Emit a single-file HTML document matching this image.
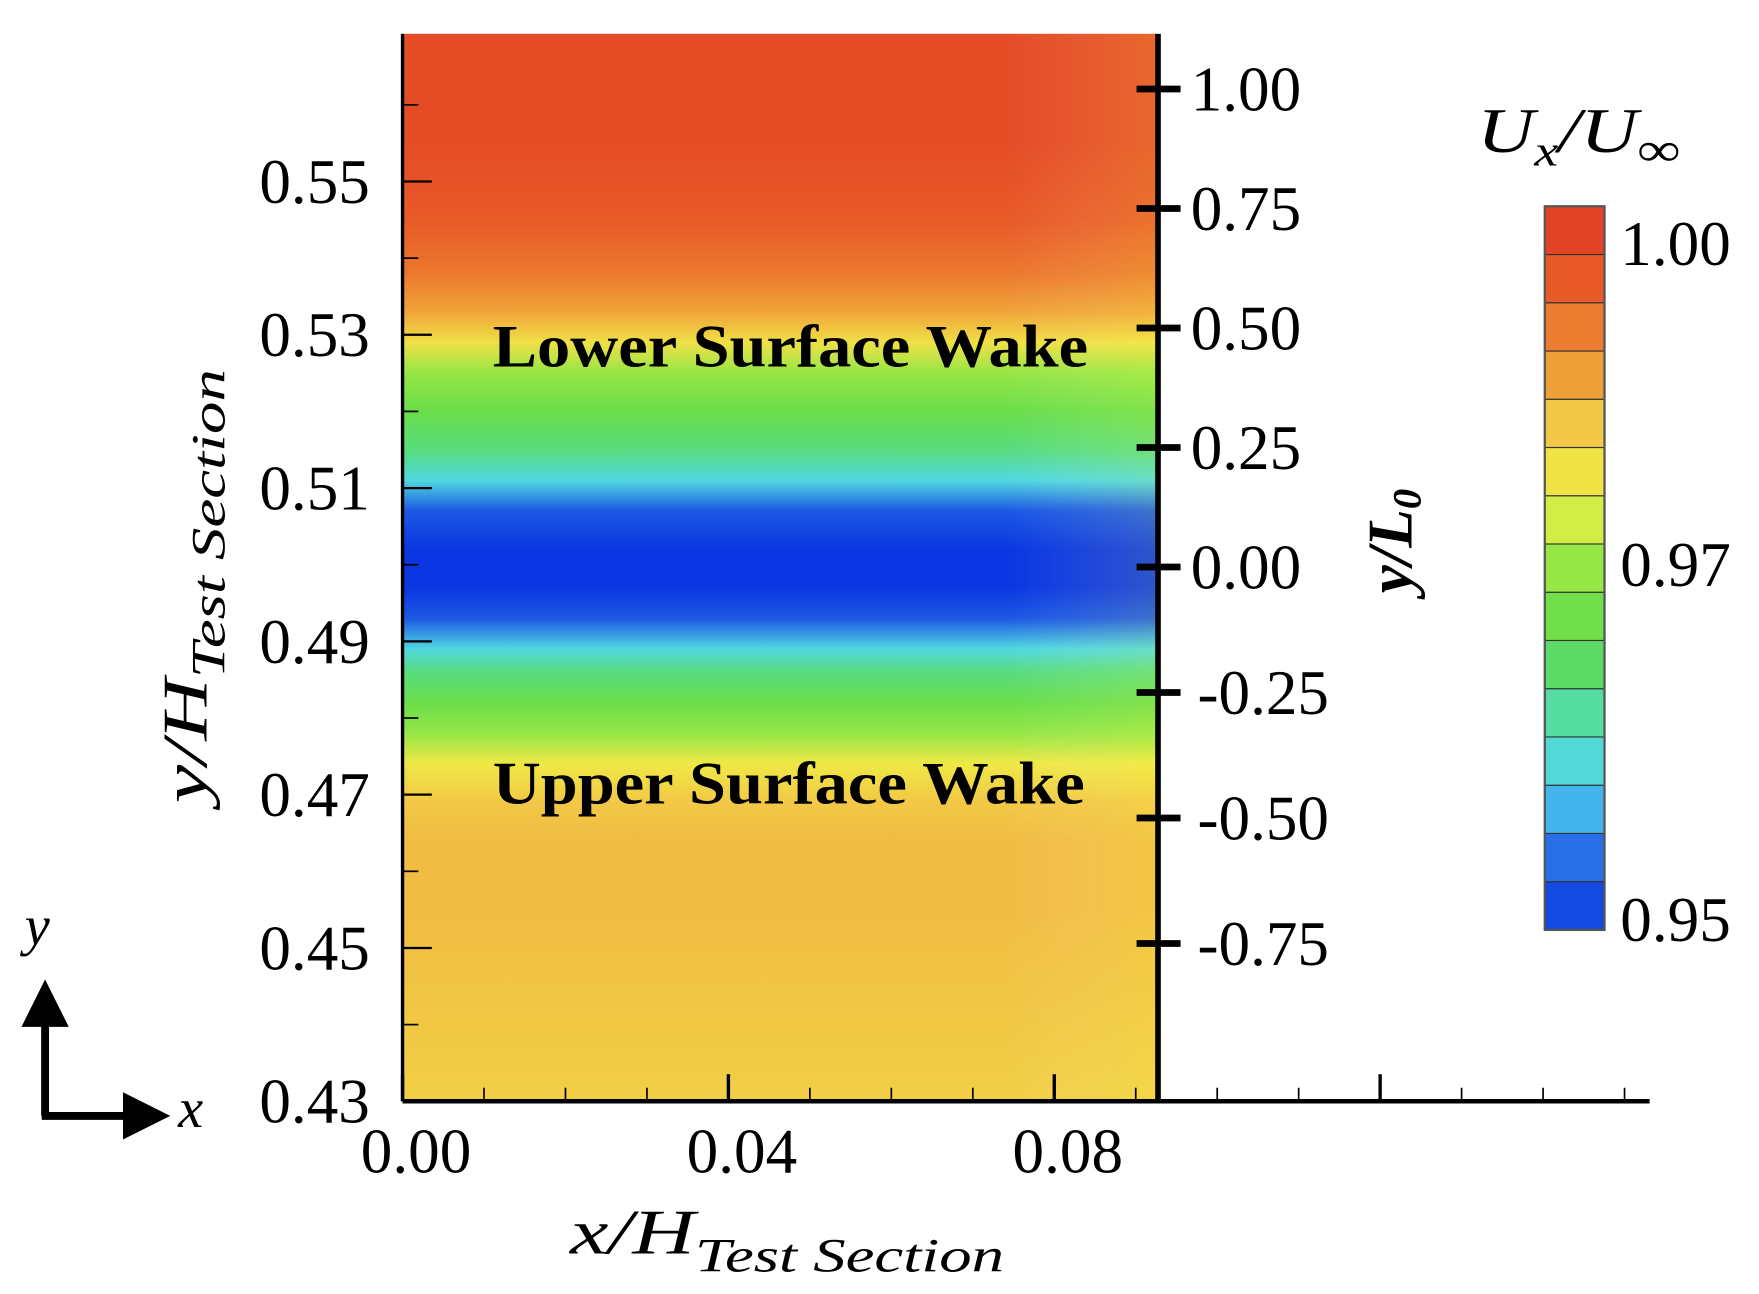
<!DOCTYPE html>
<html><head><meta charset="utf-8"><style>
html,body{margin:0;padding:0;background:#fff;}
svg{display:block;}
text{font-family:"Liberation Serif",serif;fill:#000;}
</style></head><body>
<svg id="chart" width="1759" height="1294" viewBox="0 0 1560 1148" preserveAspectRatio="none" xmlns="http://www.w3.org/2000/svg">
<defs>
<linearGradient id="fieldGrad" x1="0" y1="0" x2="0" y2="1"></linearGradient>
<linearGradient id="sideShade" x1="0" y1="0" x2="1" y2="0">
<stop offset="0" stop-color="#fff" stop-opacity="0"/>
<stop offset="0.8" stop-color="#fff" stop-opacity="0"/>
<stop offset="1" stop-color="#ffff40" stop-opacity="0.15"/>
</linearGradient>
<marker id="arrowHead" markerWidth="6" markerHeight="6" refX="3" refY="3" orient="auto"><path d="M0,0 L6,3 L0,6 z" fill="#000"/></marker>
</defs>
<g id="field"></g>
<g id="axes"></g>
<g id="cbar"></g>
<text x="437" y="325" font-size="54" font-weight="bold" textLength="528" lengthAdjust="spacingAndGlyphs">Lower Surface Wake</text>
<text x="437" y="713" font-size="54" font-weight="bold" textLength="525" lengthAdjust="spacingAndGlyphs">Upper Surface Wake</text>
<text x="0" y="0" font-size="56" font-style="italic" transform="translate(183,520) rotate(-90)" text-anchor="middle" textLength="385" lengthAdjust="spacingAndGlyphs">y/H<tspan font-size="42" dy="16">Test Section</tspan></text>
<text x="0" y="0" font-size="56" font-weight="bold" font-style="italic" transform="translate(1252,480) rotate(-90)" text-anchor="middle">y/L<tspan font-size="36" dy="8">0</tspan></text>
<text x="698" y="1112" font-size="56" font-style="italic" text-anchor="middle" textLength="385" lengthAdjust="spacingAndGlyphs">x/H<tspan font-size="42" dy="16">Test Section</tspan></text>
<text x="1400" y="135" font-size="56" font-style="italic" text-anchor="middle" textLength="180" lengthAdjust="spacingAndGlyphs">U<tspan font-size="38" dy="12">x</tspan><tspan dy="-12">/U</tspan><tspan font-size="42" dy="12">∞</tspan></text>
<g>
<line x1="40" y1="990" x2="40" y2="890" stroke="#000" stroke-width="7" marker-end="url(#arrowHead)"/>
<line x1="37" y1="990" x2="130" y2="990" stroke="#000" stroke-width="7" marker-end="url(#arrowHead)"/>
<text x="22" y="838" font-size="50" font-style="italic">y</text>
<text x="158" y="1000" font-size="50" font-style="italic">x</text>
</g>
</svg>
<script>
// data
const yProfile = [0.567,0.555,0.545,0.538,0.533,0.529,0.525,0.52,0.515,0.511,0.507,0.502,0.497,0.493,0.489,0.486,0.482,0.478,0.474,0.469,0.464,0.455,0.43];
const uProfile = [0.997,0.997,0.995,0.992,0.988,0.982,0.975,0.971,0.967,0.961,0.953,0.950,0.950,0.953,0.961,0.967,0.971,0.975,0.981,0.985,0.986,0.986,0.984];
const leftTicks = [0.43,0.45,0.47,0.49,0.51,0.53,0.55];
const leftTickLabels = ["0.43","0.45","0.47","0.49","0.51","0.53","0.55"];
const xTicks = [0,0.04,0.08];
const xTickLabels = ["0.00","0.04","0.08"];
const rightTicks = [1,0.75,0.5,0.25,0,-0.25,-0.5,-0.75];
const rightTickLabels = ["1.00","0.75","0.50","0.25","0.00","-0.25","-0.50","-0.75"];
const cbarLevels = [0.95,0.9533,0.9567,0.96,0.9633,0.9667,0.97,0.9733,0.9767,0.98,0.9833,0.9867,0.99,0.9933,0.9967,1.0];
const cbarLabels = ["1.00","0.97","0.95"];

const NS="http://www.w3.org/2000/svg";
const L=357,R=1027,T=30,B=977;
const yS=v=>977-(v-0.43)*(136/0.02);
const xS=v=>357+v*(289/0.04);
function rY(v){return v>=0?503-v*424:503-v*(334/0.75);}
const cmapStops=[[0.95,[10,55,225]],[0.955,[40,110,230]],[0.96,[80,215,240]],[0.965,[85,220,160]],[0.97,[95,220,75]],[0.975,[150,230,70]],[0.98,[238,240,70]],[0.985,[242,200,70]],[0.99,[238,140,50]],[0.995,[232,90,40]],[1.0,[225,55,35]]];
function cmap(u){
  if(u<=cmapStops[0][0])return cmapStops[0][1];
  for(let i=1;i<cmapStops.length;i++){if(u<=cmapStops[i][0]){const a=cmapStops[i-1],b=cmapStops[i];const t=(u-a[0])/(b[0]-a[0]);return a[1].map((c,k)=>Math.round(c+(b[1][k]-c)*t));}}
  return cmapStops[cmapStops.length-1][1];
}
const rgb=c=>`rgb(${c[0]},${c[1]},${c[2]})`;
function mk(tag,attrs,parent){const e=document.createElementNS(NS,tag);for(const k in attrs)e.setAttribute(k,attrs[k]);parent.appendChild(e);return e;}

const grad=document.getElementById('fieldGrad');
yProfile.forEach((y,i)=>{
  const off=Math.min(1,Math.max(0,(yS(y)-T)/(B-T)));
  mk('stop',{offset:off,'stop-color':rgb(cmap(uProfile[i]))},grad);
});
const field=document.getElementById('field');
const fr=mk('rect',{x:L,y:T,width:R-L,height:B-T,fill:'url(#fieldGrad)'},field);


mk('rect',{x:L,y:T,width:R-L,height:B-T,fill:'url(#sideShade)'},field);

const ax=document.getElementById('axes');
mk('line',{x1:L,y1:T,x2:L,y2:B,stroke:'#000','stroke-width':3},ax);
const xl=mk('line',{x1:L,y1:B,x2:1463,y2:B,stroke:'#000','stroke-width':4},ax);


const rl=mk('line',{x1:R,y1:30,x2:R,y2:977,stroke:'#000','stroke-width':5},ax);


leftTicks.forEach((v,i)=>{
  mk('line',{x1:L,x2:L+26,y1:yS(v),y2:yS(v),stroke:'#000','stroke-width':2},ax);
  mk('line',{x1:L,x2:L+14,y1:yS(v+0.01),y2:yS(v+0.01),stroke:'#000','stroke-width':1.5},ax);
  const t=mk('text',{x:328,y:yS(v)+19,'font-size':56,'text-anchor':'end'},ax);
  t.textContent=leftTickLabels[i];
  
  
});
for(let k=0;k<=15;k++){const x=xS(k*0.01);if(x>1463)break;
  const maj=k%4===0;
  mk('line',{x1:x,x2:x,y1:B,y2:B-(maj?24:12),stroke:'#000','stroke-width':maj?3:1.5},ax);}
xTicks.forEach((v,i)=>{
  const t=mk('text',{x:xS(v)+12,y:1040,'font-size':56,'text-anchor':'middle'},ax);
  t.textContent=xTickLabels[i];
  
  
});
rightTicks.forEach((v,i)=>{
  const y=rY(v);
  mk('line',{x1:1008,x2:1047,y1:y,y2:y,stroke:'#000','stroke-width':6},ax);
  const t=mk('text',{x:v<0?1062:1056,y:y+19,'font-size':56},ax);
  t.textContent=rightTickLabels[i];
  
  
});

const cb=document.getElementById('cbar');
const cx=1370,cw=53,ct=183,cbt=825;
const nb=cbarLevels.length-1,bh=(cbt-ct)/nb;
for(let i=0;i<nb;i++){
  const u=(cbarLevels[i]+cbarLevels[i+1])/2;
  const y=cbt-(i+1)*bh;
  const r=mk('rect',{x:cx,y:y,width:cw,height:bh,fill:rgb(cmap(u)),stroke:'#333','stroke-width':1},cb);
  
  
}
mk('rect',{x:cx,y:ct,width:cw,height:cbt-ct,fill:'none',stroke:'#555','stroke-width':2},cb);
const cbY=[235,520,835];
cbarLabels.forEach((s,i)=>{
  const t=mk('text',{x:1437,y:cbY[i],'font-size':56},cb);
  t.textContent=s;
  
  
});
</script>
</body></html>
